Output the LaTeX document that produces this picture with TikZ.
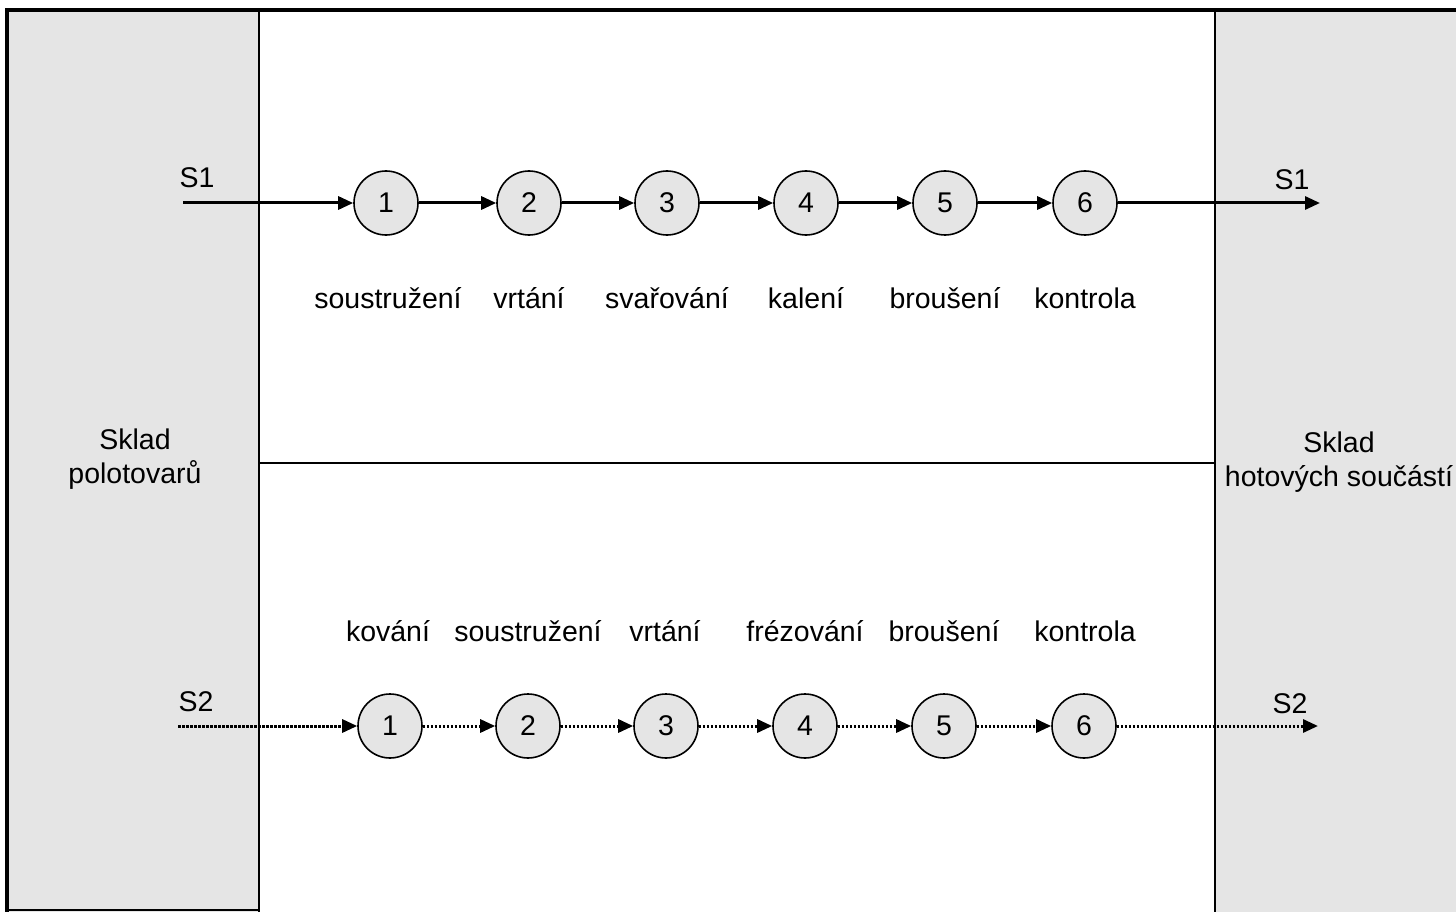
\documentclass[tikz,border=0pt]{standalone}
\usepackage{fontspec}
\setmainfont{Liberation Sans}
\usetikzlibrary{arrows.meta}
\begin{document}
\begin{tikzpicture}[x=1pt,y=-1pt,
  txt/.style={font=\fontsize{28.5}{34}\selectfont, inner sep=0pt},
  op/.style={circle, draw, line width=1.6pt, fill=black!10, minimum size=64pt, inner sep=0pt, font=\fontsize{28.5}{34}\selectfont},
  flowA/.style={line width=3pt, -{Triangle[length=15pt,width=13pt]}},
  flowB/.style={line width=3pt, dash pattern=on 2.6pt off 1.4pt, -{Triangle[length=15pt,width=13pt]}},
  wall/.style={line width=2pt},
  frame/.style={line width=3.5pt}]
\useasboundingbox (0,0) rectangle (1456,912);
% store areas
\fill[black!10] (7,10) rectangle (259,912);
\fill[black!10] (1215,10) rectangle (1456,912);
% walls
\draw[frame] (1456,10) -- (7,10) -- (7,912);
\draw[wall] (7,910) -- (259,910);
\draw[wall] (259,10) -- (259,912);
\draw[wall] (1215,10) -- (1215,912);
\draw[wall] (259,463) -- (1215,463);
% store labels
\node[txt, align=center] (sp) at (135,459) {Sklad\\polotovarů};
\node[txt, align=center] (sh) at (1339,462) {Sklad\\hotových součástí};
% row S1
\node[op] (a1) at (386,203) {1};
\node[op] (a2) at (529,203) {2};
\node[op] (a3) at (667,203) {3};
\node[op] (a4) at (806,203) {4};
\node[op] (a5) at (945,203) {5};
\node[op] (a6) at (1085,203) {6};
\coordinate (s1in) at (183,203);
\coordinate (s1out) at (1320,203);
\node[txt] (s1l) at (197,178) {S1};
\node[txt] (s1r) at (1292,180) {S1};
\draw[flowA] (s1in) -- (a1);
\draw[flowA] (a1) -- (a2);
\draw[flowA] (a2) -- (a3);
\draw[flowA] (a3) -- (a4);
\draw[flowA] (a4) -- (a5);
\draw[flowA] (a5) -- (a6);
\draw[flowA] (a6) -- (s1out);
\node[txt] (ta1) at (388,298) {soustružení};
\node[txt] (ta2) at (529,298) {vrtání};
\node[txt] (ta3) at (667,298) {svařování};
\node[txt] (ta4) at (806,298) {kalení};
\node[txt] (ta5) at (945,298) {broušení};
\node[txt] (ta6) at (1085,298) {kontrola};
% row S2
\node[op] (b1) at (390,726) {1};
\node[op] (b2) at (528,726) {2};
\node[op] (b3) at (666,726) {3};
\node[op] (b4) at (805,726) {4};
\node[op] (b5) at (944,726) {5};
\node[op] (b6) at (1084,726) {6};
\coordinate (s2in) at (178,726);
\coordinate (s2out) at (1318,726);
\node[txt] (s2l) at (196,702) {S2};
\node[txt] (s2r) at (1290,704) {S2};
\draw[flowB] (s2in) -- (b1);
\draw[flowB] (b1) -- (b2);
\draw[flowB] (b2) -- (b3);
\draw[flowB] (b3) -- (b4);
\draw[flowB] (b4) -- (b5);
\draw[flowB] (b5) -- (b6);
\draw[flowB] (b6) -- (s2out);
\node[txt] (tb1) at (388,631) {kování};
\node[txt] (tb2) at (528,631) {soustružení};
\node[txt] (tb3) at (665,631) {vrtání};
\node[txt] (tb4) at (805,631) {frézování};
\node[txt] (tb5) at (944,631) {broušení};
\node[txt] (tb6) at (1085,631) {kontrola};
\end{tikzpicture}
\end{document}
